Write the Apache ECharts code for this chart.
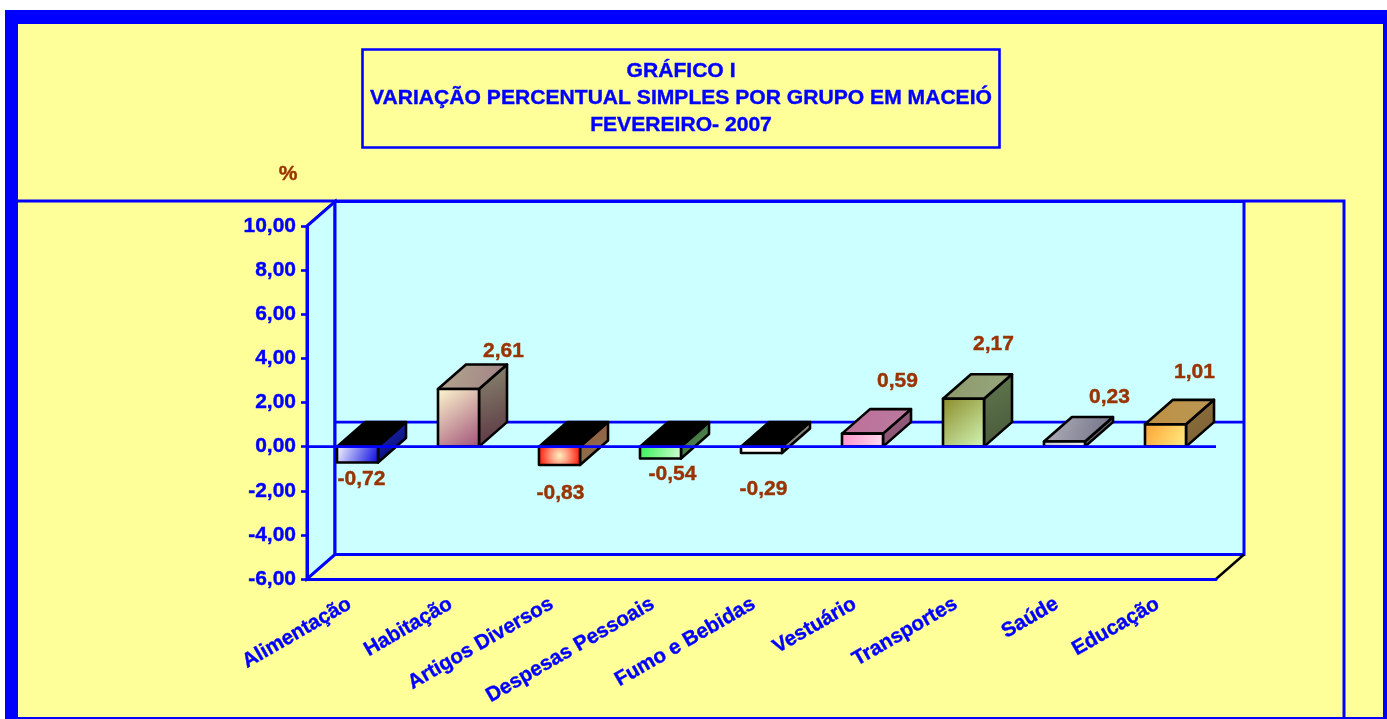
<!DOCTYPE html>
<html>
<head>
<meta charset="utf-8">
<style>
html, body { margin: 0; padding: 0; background: #fff; }
#chart { width: 1387px; height: 719px; }
</style>
<script src="https://cdn.jsdelivr.net/npm/echarts@6/dist/echarts.min.js"></script>
</head>
<body>
<div id="chart"></div>
<script>
var categories = ['Alimentação','Habitação','Artigos Diversos','Despesas Pessoais','Fumo e Bebidas','Vestuário','Transportes','Saúde','Educação'];
var values = [-0.72, 2.61, -0.83, -0.54, -0.29, 0.59, 2.17, 0.23, 1.01];

// label nudges, the original labels were dragged by hand
var labelDx = [4, 45, 1, 12, 2, 35, 30, 45, 29];
var labelDy = [17, -38, 28, 16, 36, -52, -55, -44, -52];

// [from, to] of each face is diagonal, three colours means radial
var frontColors = [['#ffffff','#0000e0'],['#fffbd0','#a04f78'],['#fff0c0','#ffa888','#ff3020'],['#30f050','#d8ffd8'],['#ffffff','#ffffff'],['#ff90c8','#ffe0f0'],['#8a8a28','#d4f8b8'],['#c8c8d0','#f0f0f0'],['#ffa030','#fff088']];
var topColors = [['#000000','#000000'],['#b4a88c','#a08088'],['#000000','#000000'],['#000000','#000000'],['#000000','#000000'],['#c07098','#b87aa0'],['#8c9868','#98a880'],['#b4b4bc','#6c6c84'],['#c09040','#b89858']];
var sideColors = [['#2030b0','#000070'],['#8a8a70','#583040'],['#a05030','#808060'],['#305830','#60a060'],['#707068','#909088'],['#a06080','#805070'],['#607850','#485838'],['#707088','#505060'],['#907038','#786038']];

var BLUE = '#0000ff';
var BROWN = '#993300';
var FONT = '"Liberation Sans", Arial, sans-serif';
var depthX = 28;
var depthY = -24.5;
var barW = 41;

function fmt(v) {
    return v.toFixed(2).replace('.', ',');
}
function grad(c) {
    if (c.length == 3) {
        return new echarts.graphic.RadialGradient(0.5, 0.5, 0.9, [{offset: 0, color: c[0]}, {offset: 0.4, color: c[1]}, {offset: 1, color: c[2]}]);
    }
    return new echarts.graphic.LinearGradient(0, 0, 1, 1, [{offset: 0, color: c[0]}, {offset: 1, color: c[1]}]);
}
function poly(points, fill, z2) {
    return {
        type: 'polygon',
        shape: {points: points},
        style: {fill: fill, stroke: '#000', lineWidth: 2.6, lineJoin: 'round'},
        z2: z2
    };
}

function renderWalls(params, api) {
    var cs = params.coordSys;
    var x0 = cs.x, x1 = cs.x + cs.width, y0 = cs.y, y1 = cs.y + cs.height;
    var zero = api.coord([0, 0])[1];
    var wall = {fill: '#ccffff', stroke: BLUE, lineWidth: 3};
    var line = {stroke: BLUE, lineWidth: 2.6};
    return {
        type: 'group',
        children: [
            {type: 'polygon', shape: {points: [[x0, y0], [x0 + depthX, y0 + depthY], [x0 + depthX, y1 + depthY], [x0, y1]]}, style: wall},
            {type: 'rect', shape: {x: x0 + depthX, y: y0 + depthY, width: cs.width, height: cs.height}, style: wall},
            {type: 'line', shape: {x1: x0 + depthX, y1: zero + depthY, x2: x1 + depthX, y2: zero + depthY}, style: line},
            {type: 'line', shape: {x1: x1, y1: y1, x2: x1 + depthX, y2: y1 + depthY}, style: {stroke: '#000', lineWidth: 2.5}}
        ]
    };
}

function renderBar(params, api) {
    var i = api.value(0);
    var v = api.value(1);
    var top = api.coord([i, Math.max(v, 0)]);
    var bottom = api.coord([i, Math.min(v, 0)]);
    var end = api.coord([i, v]);
    var l = top[0] - barW / 2;
    var r = top[0] + barW / 2;
    var t = top[1];
    var b = bottom[1];
    return {
        type: 'group',
        children: [
            poly([[r, t], [r + depthX, t + depthY], [r + depthX, b + depthY], [r, b]], grad(sideColors[i]), 1),
            poly([[l, t], [l + depthX, t + depthY], [r + depthX, t + depthY], [r, t]], grad(topColors[i]), 2),
            poly([[l, t], [r, t], [r, b], [l, b]], grad(frontColors[i]), 3),
            {
                type: 'text',
                x: top[0] + labelDx[i],
                y: end[1] + labelDy[i],
                style: {
                    text: fmt(v),
                    fill: BROWN,
                    stroke: BROWN,
                    lineWidth: 0.4,
                    font: 'bold 21px ' + FONT,
                    align: 'center',
                    verticalAlign: 'middle'
                },
                z2: 4
            }
        ]
    };
}

function renderZero(params, api) {
    var cs = params.coordSys;
    var zero = api.coord([0, 0])[1];
    return {
        type: 'line',
        shape: {x1: cs.x, y1: zero, x2: cs.x + cs.width, y2: zero},
        style: {stroke: BLUE, lineWidth: 2.6}
    };
}

var chart = echarts.init(document.getElementById('chart'), null, {renderer: 'canvas'});
chart.setOption({
    animation: false,
    backgroundColor: '#ffffff',
    textStyle: {fontFamily: FONT},
    title: {
        text: 'GRÁFICO I\nVARIAÇÃO PERCENTUAL SIMPLES POR GRUPO EM MACEIÓ\nFEVEREIRO- 2007',
        left: 673,
        top: 49,
        padding: [9, 8, 9, 8],
        borderColor: BLUE,
        borderWidth: 2.6,
        textAlign: 'center',
        textStyle: {color: BLUE, fontSize: 21.1, fontWeight: 'bold', lineHeight: 27, fontFamily: FONT, textBorderColor: BLUE, textBorderWidth: 0.4}
    },
    graphic: [
        {type: 'rect', shape: {x: 5, y: 10, width: 1382, height: 709}, style: {fill: BLUE}},
        {type: 'rect', shape: {x: 18, y: 24, width: 1365, height: 693}, style: {fill: '#ffff99'}},
        {type: 'polyline', shape: {points: [[17, 201], [1344, 201], [1344, 718]]}, style: {stroke: BLUE, lineWidth: 3, fill: null}}
    ],
    grid: {left: 307, right: 171, top: 226, bottom: 140},
    xAxis: {
        type: 'category',
        data: categories,
        z: 5,
        axisLine: {onZero: false, lineStyle: {color: BLUE, width: 3}},
        axisTick: {show: false},
        axisLabel: {color: BLUE, fontSize: 20.5, fontWeight: 'bold', rotate: 30, margin: 19, padding: [0, 9, 0, 0], interval: 0, fontFamily: FONT, textBorderColor: BLUE, textBorderWidth: 0.4}
    },
    yAxis: {
        type: 'value',
        min: -6,
        max: 10,
        interval: 2,
        z: 5,
        name: '%',
        nameLocation: 'end',
        nameGap: 41,
        nameTextStyle: {color: BROWN, fontSize: 21, fontWeight: 'bold', padding: [0, 38, 0, 0], fontFamily: FONT, textBorderColor: BROWN, textBorderWidth: 0.4},
        splitLine: {show: false},
        axisLine: {show: true, onZero: false, lineStyle: {color: BLUE, width: 3}},
        axisTick: {show: true, length: 6, lineStyle: {color: BLUE, width: 2.6}},
        axisLabel: {color: BLUE, fontSize: 21, fontWeight: 'bold', margin: 11, padding: [2, 0, 0, 0], formatter: fmt, fontFamily: FONT, textBorderColor: BLUE, textBorderWidth: 0.4}
    },
    series: [
        {type: 'custom', name: 'walls', renderItem: renderWalls, data: [[0, 0]], z: 1, silent: true},
        {type: 'custom', name: 'bars', renderItem: renderBar, data: values.map(function (v, i) { return [i, v]; }), z: 3},
        {type: 'custom', name: 'zero', renderItem: renderZero, data: [[0, 0]], z: 4, silent: true}
    ]
});
</script>
</body>
</html>
